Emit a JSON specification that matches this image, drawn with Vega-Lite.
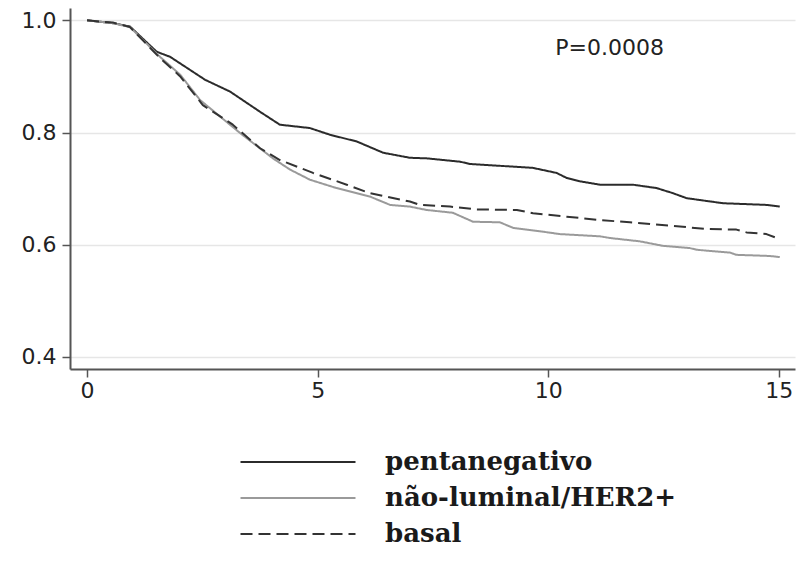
{
  "$schema": "https://vega.github.io/schema/vega-lite/v6.json",
  "width": 725,
  "height": 361,
  "autosize": "none",
  "padding": {"left": 70, "top": 8, "right": 8, "bottom": 196},
  "background": "white",
  "config": {"view": {"stroke": null}},
  "datasets": {
    "curves": [
      {"group": "pentanegativo", "t": 0, "s": 1.0},
      {"group": "pentanegativo", "t": 0.56, "s": 0.995},
      {"group": "pentanegativo", "t": 0.93, "s": 0.989},
      {"group": "pentanegativo", "t": 1.51, "s": 0.944},
      {"group": "pentanegativo", "t": 1.8, "s": 0.935},
      {"group": "pentanegativo", "t": 2.56, "s": 0.894},
      {"group": "pentanegativo", "t": 3.1, "s": 0.873},
      {"group": "pentanegativo", "t": 3.75, "s": 0.837},
      {"group": "pentanegativo", "t": 4.18, "s": 0.814},
      {"group": "pentanegativo", "t": 4.83, "s": 0.808},
      {"group": "pentanegativo", "t": 5.27, "s": 0.796},
      {"group": "pentanegativo", "t": 5.85, "s": 0.784},
      {"group": "pentanegativo", "t": 6.42, "s": 0.764},
      {"group": "pentanegativo", "t": 7.0, "s": 0.755},
      {"group": "pentanegativo", "t": 7.36, "s": 0.754},
      {"group": "pentanegativo", "t": 8.09, "s": 0.748},
      {"group": "pentanegativo", "t": 8.3, "s": 0.744},
      {"group": "pentanegativo", "t": 9.67, "s": 0.737},
      {"group": "pentanegativo", "t": 10.18, "s": 0.728},
      {"group": "pentanegativo", "t": 10.4, "s": 0.719},
      {"group": "pentanegativo", "t": 10.69, "s": 0.713},
      {"group": "pentanegativo", "t": 11.12, "s": 0.707},
      {"group": "pentanegativo", "t": 11.84, "s": 0.707},
      {"group": "pentanegativo", "t": 12.35, "s": 0.701},
      {"group": "pentanegativo", "t": 12.7, "s": 0.692},
      {"group": "pentanegativo", "t": 13.0, "s": 0.683},
      {"group": "pentanegativo", "t": 13.35, "s": 0.679},
      {"group": "pentanegativo", "t": 13.79, "s": 0.674},
      {"group": "pentanegativo", "t": 14.73, "s": 0.671},
      {"group": "pentanegativo", "t": 15.02, "s": 0.668},
      {"group": "não-luminal/HER2+", "t": 0, "s": 1.0},
      {"group": "não-luminal/HER2+", "t": 0.56, "s": 0.995},
      {"group": "não-luminal/HER2+", "t": 0.93, "s": 0.988},
      {"group": "não-luminal/HER2+", "t": 1.58, "s": 0.935},
      {"group": "não-luminal/HER2+", "t": 2.02, "s": 0.903},
      {"group": "não-luminal/HER2+", "t": 2.45, "s": 0.858},
      {"group": "não-luminal/HER2+", "t": 3.32, "s": 0.799},
      {"group": "não-luminal/HER2+", "t": 4.03, "s": 0.754},
      {"group": "não-luminal/HER2+", "t": 4.4, "s": 0.734},
      {"group": "não-luminal/HER2+", "t": 4.83, "s": 0.716},
      {"group": "não-luminal/HER2+", "t": 5.41, "s": 0.701},
      {"group": "não-luminal/HER2+", "t": 6.13, "s": 0.686},
      {"group": "não-luminal/HER2+", "t": 6.57, "s": 0.671},
      {"group": "não-luminal/HER2+", "t": 7.0, "s": 0.668},
      {"group": "não-luminal/HER2+", "t": 7.36, "s": 0.662},
      {"group": "não-luminal/HER2+", "t": 7.93, "s": 0.657},
      {"group": "não-luminal/HER2+", "t": 8.37, "s": 0.641},
      {"group": "não-luminal/HER2+", "t": 8.95, "s": 0.64},
      {"group": "não-luminal/HER2+", "t": 9.24, "s": 0.63},
      {"group": "não-luminal/HER2+", "t": 9.82, "s": 0.624},
      {"group": "não-luminal/HER2+", "t": 10.25, "s": 0.619},
      {"group": "não-luminal/HER2+", "t": 11.12, "s": 0.615},
      {"group": "não-luminal/HER2+", "t": 11.34, "s": 0.612},
      {"group": "não-luminal/HER2+", "t": 11.99, "s": 0.606},
      {"group": "não-luminal/HER2+", "t": 12.49, "s": 0.598},
      {"group": "não-luminal/HER2+", "t": 13.07, "s": 0.594},
      {"group": "não-luminal/HER2+", "t": 13.22, "s": 0.591},
      {"group": "não-luminal/HER2+", "t": 13.94, "s": 0.586},
      {"group": "não-luminal/HER2+", "t": 14.08, "s": 0.582},
      {"group": "não-luminal/HER2+", "t": 14.8, "s": 0.58},
      {"group": "não-luminal/HER2+", "t": 15.02, "s": 0.578},
      {"group": "basal", "t": 0, "s": 1.0},
      {"group": "basal", "t": 0.56, "s": 0.996},
      {"group": "basal", "t": 0.93, "s": 0.988},
      {"group": "basal", "t": 1.58, "s": 0.933},
      {"group": "basal", "t": 2.02, "s": 0.9},
      {"group": "basal", "t": 2.51, "s": 0.849},
      {"group": "basal", "t": 3.16, "s": 0.814},
      {"group": "basal", "t": 3.75, "s": 0.772},
      {"group": "basal", "t": 4.18, "s": 0.751},
      {"group": "basal", "t": 4.9, "s": 0.728},
      {"group": "basal", "t": 5.63, "s": 0.707},
      {"group": "basal", "t": 6.13, "s": 0.692},
      {"group": "basal", "t": 7.0, "s": 0.677},
      {"group": "basal", "t": 7.22, "s": 0.671},
      {"group": "basal", "t": 7.87, "s": 0.668},
      {"group": "basal", "t": 8.45, "s": 0.663},
      {"group": "basal", "t": 9.32, "s": 0.662},
      {"group": "basal", "t": 9.67, "s": 0.656},
      {"group": "basal", "t": 10.4, "s": 0.65},
      {"group": "basal", "t": 11.12, "s": 0.644},
      {"group": "basal", "t": 11.77, "s": 0.64},
      {"group": "basal", "t": 12.92, "s": 0.632},
      {"group": "basal", "t": 13.43, "s": 0.628},
      {"group": "basal", "t": 14.08, "s": 0.627},
      {"group": "basal", "t": 14.3, "s": 0.622},
      {"group": "basal", "t": 14.73, "s": 0.619},
      {"group": "basal", "t": 15.02, "s": 0.61}
    ],
    "note": [{"label": "P=0.0008", "t": 11.33, "s": 0.951}]
  },
  "layer": [
    {
      "data": {"name": "curves"},
      "mark": {"type": "line", "interpolate": "linear", "strokeCap": "butt", "strokeJoin": "round"},
      "encoding": {
        "x": {
          "field": "t", "type": "quantitative",
          "scale": {"domain": [-0.37, 15.35], "nice": false, "zero": false},
          "axis": {
            "title": null, "values": [0, 5, 10, 15], "grid": false,
            "domainColor": "#555", "domainWidth": 2,
            "tickColor": "#555", "tickSize": 8, "tickWidth": 1.5,
            "labelFont": "DejaVu Sans", "labelFontSize": 22, "labelColor": "#222",
            "labelPadding": 3, "labelFlush": false
          }
        },
        "y": {
          "field": "s", "type": "quantitative",
          "scale": {"domain": [0.3785, 1.022], "nice": false, "zero": false},
          "axis": {
            "title": null, "values": [0.4, 0.6, 0.8, 1.0], "format": ".1f",
            "grid": true, "gridColor": "#e6e6e6", "gridWidth": 1.5,
            "domainColor": "#555", "domainWidth": 2,
            "tickColor": "#555", "tickSize": 8, "tickWidth": 1.5,
            "labelFont": "DejaVu Sans", "labelFontSize": 22, "labelColor": "#222",
            "labelPadding": 6
          }
        },
        "color": {
          "field": "group", "type": "nominal",
          "scale": {"domain": ["pentanegativo", "não-luminal/HER2+", "basal"], "range": ["#2b2b2b", "#9a9a9a", "#333333"]},
          "legend": {
            "title": null, "orient": "none", "legendX": 215, "legendY": 441,
            "symbolType": "M-5,0L5,0", "symbolSize": 529, "symbolStrokeWidth": 2,
            "labelFont": "DejaVu Serif", "labelFontWeight": "bold", "labelFontSize": 26,
            "labelColor": "#1a1a1a", "labelOffset": 74, "labelLimit": 500, "rowPadding": 10, "padding": 0
          }
        },
        "strokeDash": {
          "field": "group", "type": "nominal",
          "scale": {"domain": ["pentanegativo", "não-luminal/HER2+", "basal"], "range": [[1, 0], [1, 0], [12, 6]]},
          "legend": {
            "title": null, "orient": "none", "legendX": 215, "legendY": 441,
            "symbolType": "M-5,0L5,0", "symbolSize": 529, "symbolStrokeWidth": 2,
            "labelFont": "DejaVu Serif", "labelFontWeight": "bold", "labelFontSize": 26,
            "labelColor": "#1a1a1a", "labelOffset": 74, "labelLimit": 500, "rowPadding": 10, "padding": 0
          }
        },
        "strokeWidth": {"value": 2}
      }
    },
    {
      "data": {"name": "note"},
      "mark": {"type": "text", "font": "DejaVu Sans", "fontSize": 22, "color": "#222", "align": "center", "baseline": "middle"},
      "encoding": {
        "x": {"field": "t", "type": "quantitative"},
        "y": {"field": "s", "type": "quantitative"},
        "text": {"field": "label"}
      }
    }
  ]
}
